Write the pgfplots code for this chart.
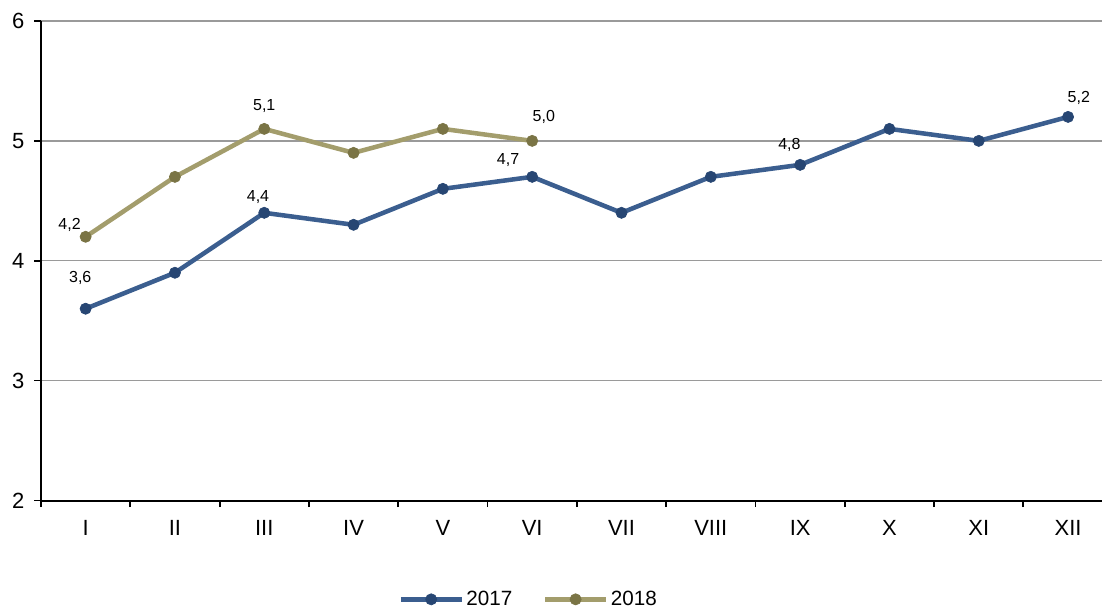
\documentclass[border=0pt]{standalone}
\usepackage{fontspec}
\setmainfont{Liberation Sans}
\usepackage{pgfplots}
\pgfplotsset{compat=1.18}
\definecolor{c17}{HTML}{3B5E8F}
\definecolor{c17m}{HTML}{274673}
\definecolor{c18}{HTML}{A39D6C}
\definecolor{c18m}{HTML}{7A7445}
\definecolor{gridc}{HTML}{9A9A9A}
\begin{document}
\begin{tikzpicture}
\begin{axis}[
  scale only axis,
  width=796.5pt, height=360pt,
  xmin=-0.5, xmax=11.38,
  ymin=2, ymax=6,
  ytick={2,3,4,5,6},
  xtick={0,...,11},
  xticklabels={I,II,III,IV,V,VI,VII,VIII,IX,X,XI,XII},
  minor xtick={-0.5,0.5,...,11.5},
  major x tick style={draw=none},
  minor tick style={draw=black, line width=1.4pt},
  minor tick length=5pt,
  major tick length=5pt,
  y tick style={black, line width=1.2pt},
  tick align=outside,
  axis x line*=bottom, axis y line*=left,
  axis line style={black, line width=1.5pt, -},
  ymajorgrids,
  major grid style={gridc, line width=1pt},
  tick label style={font=\fontsize{16.5}{19}\selectfont},
  xticklabel style={yshift=-6pt},
  yticklabel style={xshift=-4pt},
  /pgf/number format/assume math mode=true,
  clip=false,
  legend columns=2,
  legend style={draw=none, fill=none, at={(0.46,-0.206)}, anchor=center,
    font=\fontsize{15.5}{17}\selectfont, /tikz/every even column/.append style={column sep=21pt}},
  legend image code/.code={\draw[#1, mark repeat=2, mark phase=2] plot coordinates {(0cm,0cm) (0.8cm,0cm) (1.6cm,0cm)};},
]
\addplot[c17, line width=3.4pt, mark=*, mark size=4.2pt, mark options={fill=c17m, draw=c17m, line width=0.5pt}]
  coordinates {(0,3.6) (1,3.9) (2,4.4) (3,4.3) (4,4.6) (5,4.7) (6,4.4) (7,4.7) (8,4.8) (9,5.1) (10,5.0) (11,5.2)};
\addlegendentry{2017}
\addplot[c18, line width=3.4pt, mark=*, mark size=4.2pt, mark options={fill=c18m, draw=c18m, line width=0.5pt}]
  coordinates {(0,4.2) (1,4.7) (2,5.1) (3,4.9) (4,5.1) (5,5.0)};
\addlegendentry{2018}
\begin{scope}[every node/.style={font=\fontsize{12}{14}\selectfont}]
\node at (axis cs:-0.06,3.86) {3,6};
\node at (axis cs:-0.18,4.3) {4,2};
\node at (axis cs:1.93,4.53) {4,4};
\node at (axis cs:2.0,5.29) {5,1};
\node at (axis cs:4.73,4.84) {4,7};
\node at (axis cs:5.13,5.2) {5,0};
\node at (axis cs:7.88,4.97) {4,8};
\node at (axis cs:11.12,5.36) {5,2};
\end{scope}
\path (rel axis cs:0,1) -- ++(-30.75pt,15.75pt);
\path (rel axis cs:0,0) -- ++(0pt,-82pt);
\end{axis}
\end{tikzpicture}
\end{document}
